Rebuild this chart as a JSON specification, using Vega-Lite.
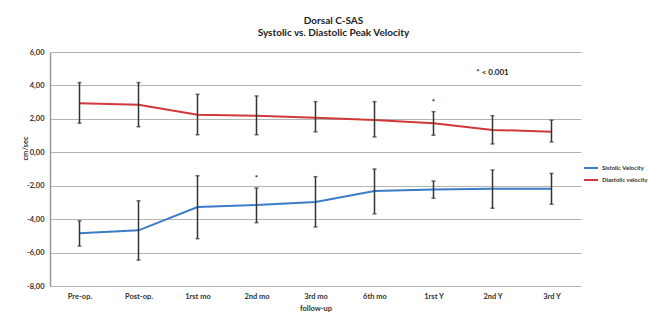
{
  "$schema": "https://vega.github.io/schema/vega-lite/v6.json",
  "width": 531,
  "height": 234,
  "autosize": {"type": "none"},
  "padding": {"left": 50, "top": 52, "right": 68, "bottom": 34},
  "background": "white",
  "title": {
    "text": ["Dorsal C-SAS", "Systolic vs. Diastolic Peak Velocity"],
    "anchor": "middle",
    "dx": 18,
    "offset": 10,
    "fontSize": 10,
    "lineHeight": 12,
    "font": "Lato",
    "fontWeight": "bold",
    "color": "#222"
  },
  "datasets": {
    "vel": [
      {"t": "Pre-op.", "series": "Sistolic Velocity", "mean": -4.85, "lo": -5.61, "hi": -4.10},
      {"t": "Post-op.", "series": "Sistolic Velocity", "mean": -4.67, "lo": -6.45, "hi": -2.90},
      {"t": "1rst mo", "series": "Sistolic Velocity", "mean": -3.28, "lo": -5.17, "hi": -1.40},
      {"t": "2nd mo", "series": "Sistolic Velocity", "mean": -3.16, "lo": -4.21, "hi": -2.14},
      {"t": "3rd mo", "series": "Sistolic Velocity", "mean": -2.98, "lo": -4.47, "hi": -1.46},
      {"t": "6th mo", "series": "Sistolic Velocity", "mean": -2.32, "lo": -3.68, "hi": -1.00},
      {"t": "1rst Y", "series": "Sistolic Velocity", "mean": -2.22, "lo": -2.75, "hi": -1.72},
      {"t": "2nd Y", "series": "Sistolic Velocity", "mean": -2.18, "lo": -3.35, "hi": -1.06},
      {"t": "3rd Y", "series": "Sistolic Velocity", "mean": -2.18, "lo": -3.11, "hi": -1.26},
      {"t": "Pre-op.", "series": "Diastolic velocity", "mean": 2.93, "lo": 1.74, "hi": 4.17},
      {"t": "Post-op.", "series": "Diastolic velocity", "mean": 2.85, "lo": 1.53, "hi": 4.17},
      {"t": "1rst mo", "series": "Diastolic velocity", "mean": 2.25, "lo": 1.05, "hi": 3.47},
      {"t": "2nd mo", "series": "Diastolic velocity", "mean": 2.19, "lo": 1.05, "hi": 3.37},
      {"t": "3rd mo", "series": "Diastolic velocity", "mean": 2.07, "lo": 1.22, "hi": 3.03},
      {"t": "6th mo", "series": "Diastolic velocity", "mean": 1.93, "lo": 0.92, "hi": 3.03},
      {"t": "1rst Y", "series": "Diastolic velocity", "mean": 1.74, "lo": 1.02, "hi": 2.43},
      {"t": "2nd Y", "series": "Diastolic velocity", "mean": 1.34, "lo": 0.50, "hi": 2.19},
      {"t": "3rd Y", "series": "Diastolic velocity", "mean": 1.23, "lo": 0.62, "hi": 1.92}
    ],
    "notes": [
      {"t": "2nd mo", "v": -1.62, "label": "*"},
      {"t": "1rst Y", "v": 2.97, "label": "*"},
      {"t": "2nd Y", "v": 4.75, "label": "* < 0.001"}
    ]
  },
  "data": {"name": "vel"},
  "encoding": {
    "x": {
      "field": "t",
      "type": "nominal",
      "sort": ["Pre-op.", "Post-op.", "1rst mo", "2nd mo", "3rd mo", "6th mo", "1rst Y", "2nd Y", "3rd Y"],
      "scale": {"type": "point", "padding": 0.5},
      "axis": {
        "title": "follow-up",
        "labelAngle": 0,
        "ticks": false,
        "tickSize": 0,
        "domain": false,
        "labelPadding": 6,
        "titlePadding": 5,
        "labelFontSize": 7.5,
        "titleFontSize": 7.5,
        "labelFont": "Lato",
        "titleFont": "Lato",
        "labelFontWeight": "bold",
        "titleFontWeight": "bold",
        "labelColor": "#333",
        "titleColor": "#333"
      }
    }
  },
  "layer": [
    {
      "mark": {"type": "line", "strokeWidth": 2},
      "encoding": {
        "y": {
          "field": "mean",
          "type": "quantitative",
          "scale": {"domain": [-8, 6], "nice": false, "zero": false},
          "axis": {"title": "cm/sec", "values": [-8, -6, -4, -2, 0, 2, 4, 6]}
        },
        "color": {
          "field": "series",
          "type": "nominal",
          "scale": {"domain": ["Sistolic Velocity", "Diastolic velocity"], "range": ["#3a7cc6", "#d0383a"]},
          "legend": {
            "title": null,
            "orient": "none",
            "legendX": 533,
            "legendY": 108,
            "symbolType": "stroke",
            "symbolSize": 196,
            "symbolStrokeWidth": 2,
            "rowPadding": 0,
            "labelOffset": 3,
            "labelFontSize": 6,
            "labelFont": "Lato",
            "labelFontWeight": "bold",
            "labelColor": "#333"
          }
        }
      }
    },
    {
      "mark": {"type": "rule", "color": "#333", "strokeWidth": 1.5},
      "encoding": {
        "y": {"field": "lo", "type": "quantitative", "axis": {"title": "cm/sec", "values": [-8, -6, -4, -2, 0, 2, 4, 6]}},
        "y2": {"field": "hi"}
      }
    },
    {
      "mark": {"type": "tick", "color": "#333", "size": 4, "thickness": 1.5},
      "encoding": {"y": {"field": "lo", "type": "quantitative", "axis": {"title": "cm/sec", "values": [-8, -6, -4, -2, 0, 2, 4, 6]}}}
    },
    {
      "mark": {"type": "tick", "color": "#333", "size": 4, "thickness": 1.5},
      "encoding": {"y": {"field": "hi", "type": "quantitative", "axis": {"title": "cm/sec", "values": [-8, -6, -4, -2, 0, 2, 4, 6]}}}
    },
    {
      "data": {"name": "notes"},
      "mark": {"type": "text", "fontSize": 8, "font": "Lato", "fontWeight": "bold", "color": "#222", "align": "center", "baseline": "middle"},
      "encoding": {
        "y": {"field": "v", "type": "quantitative", "axis": {"title": "cm/sec", "values": [-8, -6, -4, -2, 0, 2, 4, 6]}},
        "text": {"field": "label"}
      }
    }
  ],
  "config": {
    "view": {"stroke": null},
    "axisY": {
      "labelOverlap": false,
      "labelExpr": "replace(replace(format(datum.value, '.2f'), '.', ','), '\u2212', '-')",
      "ticks": false,
      "tickSize": 0,
      "labelPadding": 6,
      "domainColor": "#999",
      "domainWidth": 1.5,
      "gridColor": "#b4b4b4",
      "gridWidth": 1.2,
      "labelFontSize": 7.5,
      "titleFontSize": 7.5,
      "labelFont": "Lato",
      "titleFont": "Lato",
      "labelFontWeight": "bold",
      "titleFontWeight": "bold",
      "labelColor": "#333",
      "titleColor": "#333",
      "titleX": -25,
      "titleY": 96,
      "titleBaseline": "middle"
    }
  }
}
